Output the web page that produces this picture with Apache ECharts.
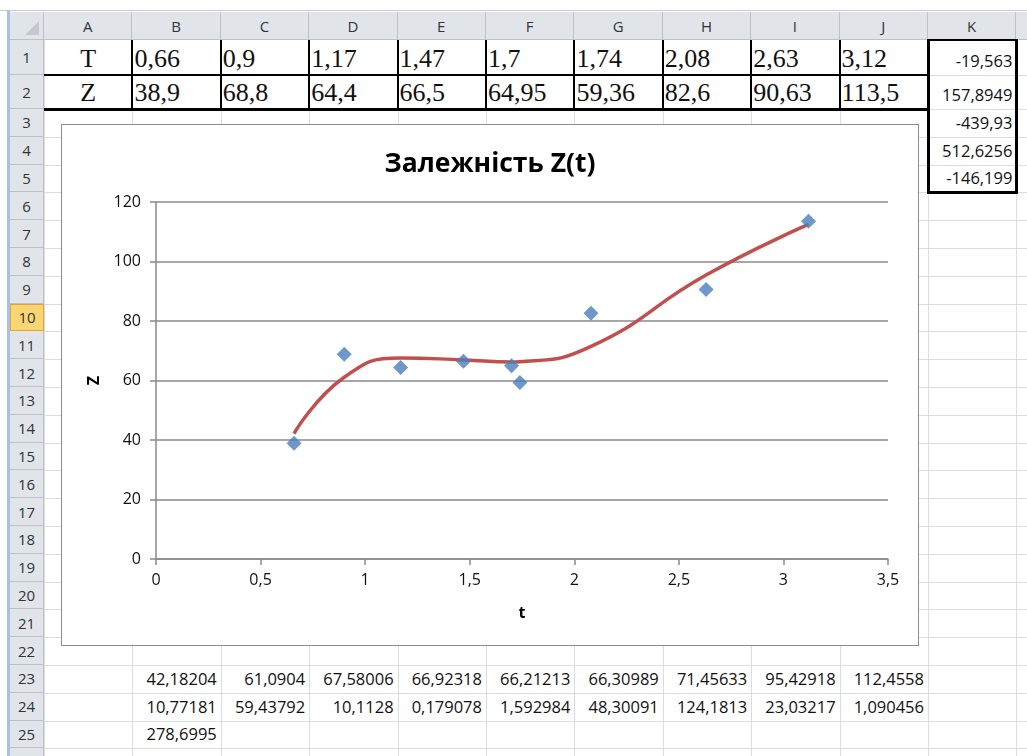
<!DOCTYPE html>
<html>
<head>
<meta charset="utf-8">
<script src="https://cdn.jsdelivr.net/npm/echarts@6/dist/echarts.min.js"></script>
<style>
  html, body { margin: 0; padding: 0; background: #fff; }
  body { width: 1027px; height: 756px; position: relative; overflow: hidden; font-family: "Open Sans", sans-serif; }
  .abs { position: absolute; box-sizing: border-box; }
  .hdr { background: #e1e5ea; color: #2f343b; font-size: 15px; display: flex; align-items: center; justify-content: center;
         border-right: 1px solid #b8c1cc; border-bottom: 1px solid #b8c1cc; }
  .hdr.sel { background: #f9d672; border: 1px solid #e0a43a; color: #333; }
  .cell { font-size: 16.5px; color: #111; display: flex; align-items: flex-end; padding: 0 4px 3px 4px; white-space: nowrap; }
  .cell.r { justify-content: flex-end; }
  .cell.serif { font-family: "Liberation Serif", "Times New Roman", serif; font-size: 26px; padding: 0 2px 1px 2px; }
  .cell.c { justify-content: center; }
  .gl { background: #dadcdf; }
  .bl { background: #000; }
  #chart { position: absolute; left: 61px; top: 124px; width: 856px; height: 520px; border: 1px solid #8c8c8c; background: #fff; }
</style>
</head>
<body>
<div id="sheet"></div>
<div id="chart"></div>
<script>
// ---- worksheet contents ----
const colLetters = ['A', 'B', 'C', 'D', 'E', 'F', 'G', 'H', 'I', 'J', 'K', 'L'];
const tValues = [0.66, 0.9, 1.17, 1.47, 1.7, 1.74, 2.08, 2.63, 3.12];
const zValues = [38.9, 68.8, 64.4, 66.5, 64.95, 59.36, 82.6, 90.63, 113.5];
// polynomial coefficients (column K)
const coefValues = ['-19,563', '157,8949', '-439,93', '512,6256', '-146,199'];
// fitted values at each t (row 23)
const fittedValues = [42.18204, 61.0904, 67.58006, 66.92318, 66.21213, 66.30989, 71.45633, 95.42918, 112.4558];
// squared deviations (row 24) and their sum (row 25)
const sqDevLabels = ['10,77181', '59,43792', '10,1128', '0,179078', '1,592984', '48,30091', '124,1813', '23,03217', '1,090456'];
const sumLabel = '278,6995';
const xTicks = { min: 0, max: 3.5, step: 0.5 };
const yTicks = { min: 0, max: 120, step: 20 };

const comma = v => String(v).replace('.', ',');

// ---- sheet geometry ----
const hdrLeft = 10, colStart = 44, colW = 88.4, hdrTop = 12, row1Top = 40;
const colX = i => colStart + i * colW;
function rowTop(n) {
  if (n === 1) return 40;
  if (n === 2) return 75;
  return 109 + (n - 3) * 27.8;
}
const sheet = document.getElementById('sheet');
function add(cls, x, y, w, h, text) {
  const d = document.createElement('div');
  d.className = 'abs ' + cls;
  d.style.left = x + 'px'; d.style.top = y + 'px';
  d.style.width = w + 'px'; d.style.height = h + 'px';
  if (text !== undefined) d.textContent = text;
  sheet.appendChild(d);
  return d;
}
// window edge
add('', 0, 0, 1027, 11, undefined).style.background = '#fff';
add('', 0, 10, 1027, 1, undefined).style.background = '#c5ccd5';
add('', 7, 10, 3, 746, undefined).style.background = '#a9c2e4';

// gridlines
for (let i = 0; i <= 11; i++) add('gl', Math.round(colX(i)), row1Top, 1, 756 - row1Top);
for (let n = 2; n <= 27; n++) add('gl', colStart, Math.round(rowTop(n)), 1027 - colStart, 1);

// column headers
const corner = add('hdr', hdrLeft, hdrTop, colStart - hdrLeft, row1Top - hdrTop);
const tri = document.createElement('div');
tri.style.cssText = 'position:absolute;right:4px;bottom:4px;width:0;height:0;border-left:14px solid transparent;border-bottom:14px solid #c4c9cf;';
corner.appendChild(tri);
colLetters.forEach((c, i) => add('hdr', colX(i), hdrTop, colW, row1Top - hdrTop, c));
// row headers
for (let n = 1; n <= 26; n++) {
  const y = rowTop(n), h = rowTop(n + 1) - y;
  add('hdr' + (n === 10 ? ' sel' : ''), hdrLeft, y, colStart - hdrLeft, h, String(n));
}

// rows 1-2: T and Z
function cellBox(col, row) {
  return [colX(col), rowTop(row), colW, rowTop(row + 1) - rowTop(row)];
}
add('cell serif c', ...cellBox(0, 1), 'T');
add('cell serif c', ...cellBox(0, 2), 'Z');
tValues.forEach((v, i) => add('cell serif', ...cellBox(i + 1, 1), comma(v)));
zValues.forEach((v, i) => add('cell serif', ...cellBox(i + 1, 2), comma(v)));
coefValues.forEach((s, i) => add('cell r', ...cellBox(10, i + 1), s));
fittedValues.forEach((v, i) => add('cell r', ...cellBox(i + 1, 23), comma(v)));
sqDevLabels.forEach((s, i) => add('cell r', ...cellBox(i + 1, 24), s));
add('cell r', ...cellBox(1, 25), sumLabel);

// borders of the data table
add('bl', colStart, 74, colX(10) - colStart, 2);
add('bl', colStart, 108, colX(10) - colStart, 3);
for (let i = 1; i < 10; i++) add('bl', Math.round(colX(i)) - 1, row1Top, 2, 69);
// box round K1:K5
const kx = Math.round(colX(10)) - 1, ky = row1Top - 1, kw = Math.round(colW) + 1, kh = Math.round(rowTop(6)) - ky;
add('bl', kx, ky, 3, kh + 2);
add('bl', kx + kw - 1, ky, 3, kh + 2);
add('bl', kx, ky, kw + 2, 2);
add('bl', kx, ky + kh - 1, kw + 2, 3);

// ---- chart ----
const chart = echarts.init(document.getElementById('chart'));
const labelFont = { fontFamily: 'Open Sans', fontSize: 16, color: '#111' };
const axisGray = '#8a8a8a';
chart.setOption({
  animation: false,
  backgroundColor: '#fff',
  title: {
    text: 'Залежність Z(t)',
    left: 'center',
    top: 21,
    textStyle: { fontFamily: 'Open Sans', fontWeight: 'bold', fontSize: 26.5, color: '#000' }
  },
  grid: { left: 94, right: 30, top: 77, bottom: 86, containLabel: false },
  xAxis: {
    type: 'value',
    min: xTicks.min, max: xTicks.max, interval: xTicks.step,
    name: 't', nameLocation: 'middle', nameGap: 46,
    nameTextStyle: { fontFamily: 'Open Sans', fontWeight: 'bold', fontSize: 16, color: '#000' },
    axisLine: { show: true, onZero: false, lineStyle: { color: axisGray, width: 1.5 } },
    axisTick: { show: true, length: 6, lineStyle: { color: axisGray, width: 1.5 } },
    axisLabel: Object.assign({ margin: 13, formatter: v => comma(v) }, labelFont),
    splitLine: { show: false }
  },
  yAxis: {
    type: 'value',
    min: yTicks.min, max: yTicks.max, interval: yTicks.step,
    name: 'Z', nameLocation: 'middle', nameGap: 52,
    nameTextStyle: { fontFamily: 'Open Sans', fontWeight: 'bold', fontSize: 16, color: '#000' },
    axisLine: { show: true, lineStyle: { color: axisGray, width: 1.5 } },
    axisTick: { show: true, length: 6, lineStyle: { color: axisGray, width: 1.5 } },
    axisLabel: Object.assign({ margin: 15, formatter: v => comma(v) }, labelFont),
    splitLine: { show: true, lineStyle: { color: axisGray, width: 1.5 } }
  },
  series: [
    {
      name: 'Тренд',
      type: 'line',
      data: tValues.map((t, i) => [t, fittedValues[i]]),
      smooth: 0.5,
      showSymbol: false,
      lineStyle: { color: '#c0504d', width: 3.5 },
      z: 2
    },
    {
      name: 'Z',
      type: 'scatter',
      data: tValues.map((t, i) => [t, zValues[i]]),
      symbol: 'diamond',
      symbolSize: 15,
      itemStyle: { color: '#4a7ebb' },
      z: 3
    }
  ]
});
</script>
</body>
</html>
